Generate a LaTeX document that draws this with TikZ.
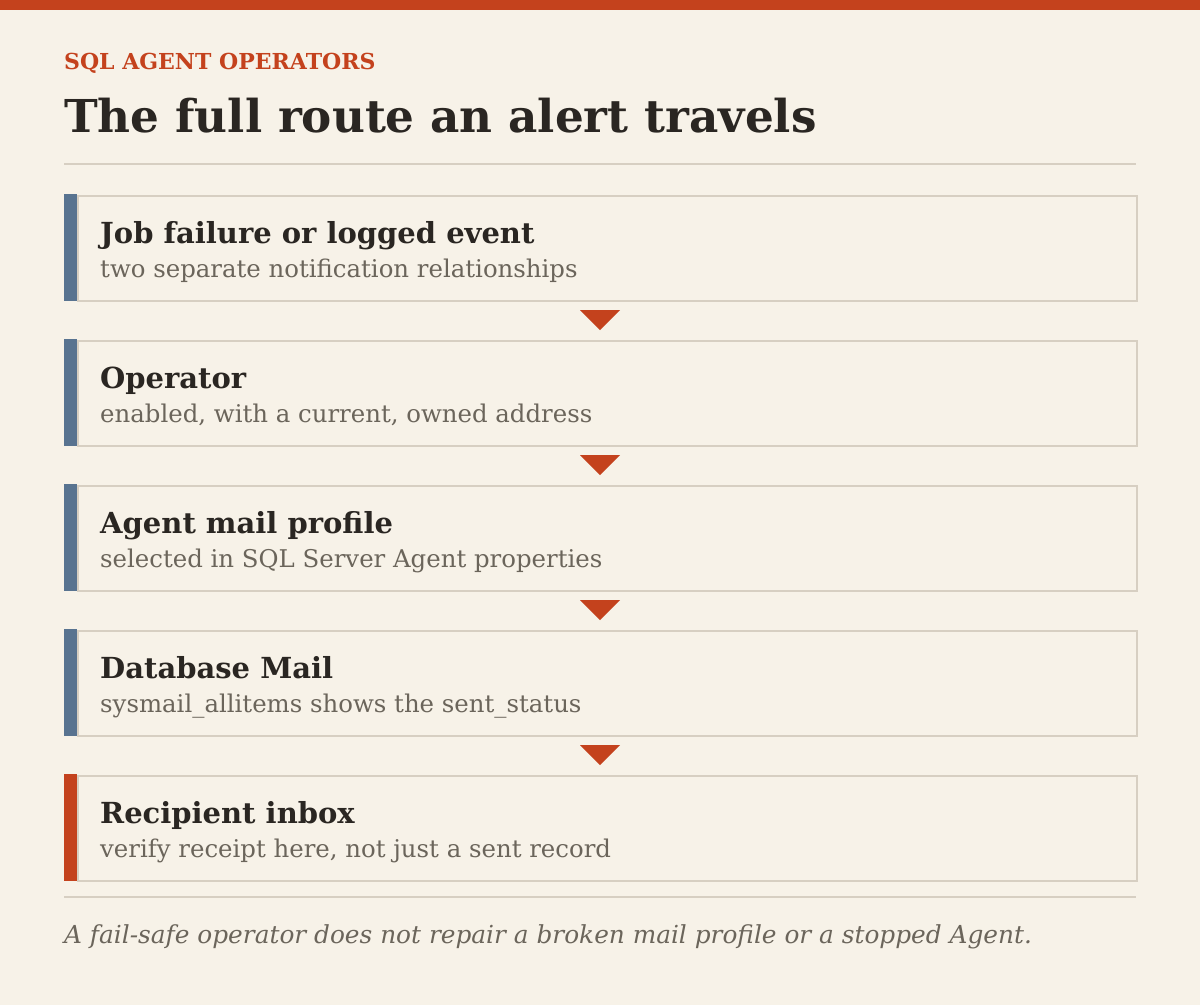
\documentclass[tikz,border=0pt]{standalone}
\usepackage{fontspec}
\setmainfont{DejaVu Serif}
\usetikzlibrary{positioning}
\usetikzlibrary{calc}

\definecolor{paper}{HTML}{F7F2E8}
\definecolor{rust}{HTML}{C4421D}
\definecolor{slate}{HTML}{587390}
\definecolor{rulegray}{HTML}{D7CFC2}
\definecolor{ink}{HTML}{2A2622}
\definecolor{muted}{HTML}{6B655B}

\tikzset{
  kicker/.style={anchor=base west, inner sep=0pt, text=rust, font=\fontsize{22}{26}\selectfont\bfseries},
  headline/.style={anchor=base west, inner sep=0pt, text=ink, font=\fontsize{45.3}{52}\selectfont\bfseries},
  stepbox/.style={draw=rulegray, line width=2pt, fill=paper, minimum width=1059pt, minimum height=105pt, inner sep=0pt, anchor=north west},
  stephead/.style={anchor=base west, inner sep=0pt, text=ink, font=\fontsize{29}{34}\selectfont\bfseries},
  stepsub/.style={anchor=base west, inner sep=0pt, text=muted, font=\fontsize{24.4}{29}\selectfont},
  footnote/.style={anchor=base west, inner sep=0pt, text=muted, font=\fontsize{24.8}{29}\selectfont\itshape},
  hrule/.style={draw=rulegray, line width=2pt}
}

\begin{document}
\begin{tikzpicture}[x=1pt,y=-1pt]
  \useasboundingbox (0,0) rectangle (1200,1005);
  \fill[paper] (0,0) rectangle (1200,1005);
  \fill[rust] (0,0) rectangle (1200,10);

  % heading
  \node[kicker] (kick) at (64,69) {SQL AGENT OPERATORS};
  \node[headline] (title) at (64,132) {The full route an alert travels};
  \draw[hrule] (64,164) -- (1136,164);

  % the five steps
  \foreach \i/\head/\sub/\barcol in {
      1/Job failure or logged event/two separate notification relationships/slate,
      2/Operator/{enabled, with a current, owned address}/slate,
      3/Agent mail profile/selected in SQL Server Agent properties/slate,
      4/Database Mail/sysmail\_allitems shows the sent\_status/slate,
      5/Recipient inbox/{verify receipt here, not just a sent record}/rust}
  {
    \node[stepbox] (box\i) at (77,{195+145*(\i-1)}) {};
    \fill[\barcol] (64,{195+145*(\i-1)-1}) rectangle (77,{300+145*(\i-1)+1});
    \node[stephead] (head\i) at (100,{243+145*(\i-1)}) {\head};
    \node[stepsub] (sub\i) at (100,{277+145*(\i-1)}) {\sub};
  }

  % arrows between the steps
  \foreach \i in {1,...,4}
  {
    \coordinate (tip\i) at (600,{330+145*(\i-1)});
    \fill[rust] ($(tip\i)+(-20,-20)$) -- ($(tip\i)+(20,-20)$) -- (tip\i) -- cycle;
  }

  % footer
  \draw[hrule] (64,897) -- (1136,897);
  \node[footnote] (foot) at (64,943) {A fail-safe operator does not repair a broken mail profile or a stopped Agent.};
\end{tikzpicture}
\end{document}
